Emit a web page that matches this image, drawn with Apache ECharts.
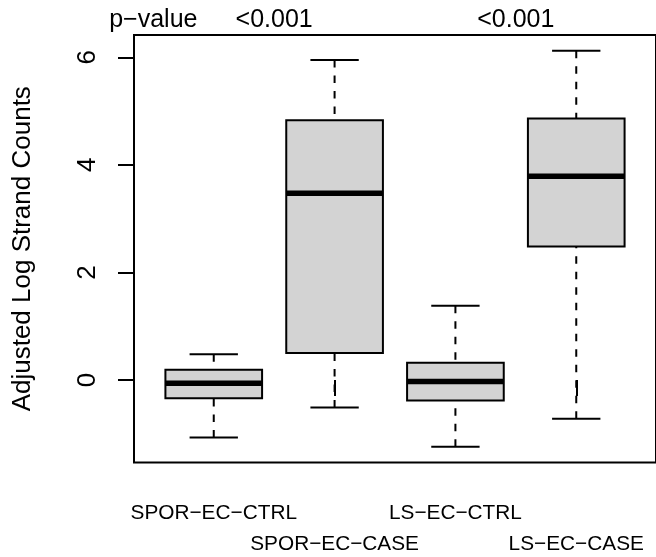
<!DOCTYPE html>
<html>
<head>
<meta charset="utf-8">
<script src="https://cdn.jsdelivr.net/npm/echarts@6/dist/echarts.min.js"></script>
<style>
html,body{margin:0;padding:0;background:#fff;}
#chart{width:656px;height:557px;}
</style>
</head>
<body>
<div id="chart"></div>
<script>
// ---- data ----
var categories = ['SPOR\u2212EC\u2212CTRL', 'SPOR\u2212EC\u2212CASE', 'LS\u2212EC\u2212CTRL', 'LS\u2212EC\u2212CASE'];
var categoryPositions = [1, 2, 3, 4];
var firstRowPositions = [1, 3];
var secondRowPositions = [2, 4];
var lowerWhisker = [-1.07, -0.51, -1.24, -0.72];
var q1 = [-0.34, 0.50, -0.38, 2.48];
var median = [-0.06, 3.47, -0.03, 3.79];
var q3 = [0.19, 4.83, 0.32, 4.86];
var upperWhisker = [0.48, 5.95, 1.38, 6.12];
var yTicks = [0, 2, 4, 6];
var pLabelPositions = [0.5, 1.5, 3.5];
var pLabels = ['p\u2212value', '<0.001', '<0.001'];

var FONT = "'Liberation Sans', Arial, Helvetica, sans-serif";
var XMIN = 0.34, XMAX = 4.66;

var boxData = categoryPositions.map(function (x, i) {
  return [x, lowerWhisker[i], q1[i], median[i], q3[i], upperWhisker[i]];
});

function renderBox(params, api) {
  var x = api.value(0);
  var lw = api.value(1), lq = api.value(2), md = api.value(3), uq = api.value(4), uw = api.value(5);
  var halfBox = 0.4, halfCap = 0.2;
  var pL = api.coord([x - halfBox, uq]);
  var pR = api.coord([x + halfBox, lq]);
  var c = api.coord([x, 0])[0];
  var capL = api.coord([x - halfCap, 0])[0];
  var capR = api.coord([x + halfCap, 0])[0];
  var yUW = api.coord([x, uw])[1];
  var yLW = api.coord([x, lw])[1];
  var yUQ = pL[1], yLQ = pR[1];
  var yMd = api.coord([x, md])[1];
  var dashStyle = { stroke: '#000', lineWidth: 2, lineDash: [7.5, 8], fill: null };
  var solid = { stroke: '#000', lineWidth: 2, fill: null };
  return {
    type: 'group',
    children: [
      { type: 'line', shape: { x1: c, y1: yUW, x2: c, y2: yUQ }, style: dashStyle },
      { type: 'line', shape: { x1: c, y1: yLW, x2: c, y2: yLQ }, style: dashStyle },
      { type: 'line', shape: { x1: capL, y1: yUW, x2: capR, y2: yUW }, style: solid },
      { type: 'line', shape: { x1: capL, y1: yLW, x2: capR, y2: yLW }, style: solid },
      { type: 'rect', shape: { x: pL[0], y: yUQ, width: pR[0] - pL[0], height: yLQ - yUQ },
        style: { fill: '#D3D3D3', stroke: '#000', lineWidth: 2 } },
      { type: 'line', shape: { x1: pL[0], y1: yMd, x2: pR[0], y2: yMd },
        style: { stroke: '#000', lineWidth: 5.5, lineCap: 'butt' } }
    ]
  };
}

function catLabel(v) {
  return categories[Math.round(v) - 1];
}

var labelCommon = {
  color: '#000', fontFamily: FONT, fontSize: 20.8,
  interval: 0, hideOverlap: false, showMinLabel: true, showMaxLabel: true,
  formatter: catLabel
};

var chart = echarts.init(document.getElementById('chart'), null, { renderer: 'canvas' });
chart.setOption({
  animation: false,
  backgroundColor: '#fff',
  grid: {
    left: 134, top: 35, right: -1, bottom: 94.5,
    show: true, borderColor: '#000', borderWidth: 2, backgroundColor: 'transparent'
  },
  xAxis: [{
    type: 'value', position: 'bottom', min: XMIN, max: XMAX,
    axisLine: { show: false },
    splitLine: { show: false },
    axisTick: { show: true, customValues: categoryPositions, length: 16, lineStyle: { color: '#000', width: 2 } },
    axisLabel: Object.assign({ customValues: firstRowPositions, margin: 40 }, labelCommon)
  }, {
    type: 'value', position: 'bottom', offset: 0, min: XMIN, max: XMAX,
    axisLine: { show: false }, splitLine: { show: false }, axisTick: { show: false },
    axisLabel: Object.assign({ customValues: secondRowPositions, margin: 71.5 }, labelCommon)
  }, {
    type: 'value', position: 'top', min: XMIN, max: XMAX,
    axisLine: { show: false }, splitLine: { show: false }, axisTick: { show: false },
    axisLabel: {
      customValues: pLabelPositions, margin: 2, color: '#000',
      fontFamily: FONT, fontSize: 25,
      interval: 0, hideOverlap: false, showMinLabel: true, showMaxLabel: true,
      formatter: function (v) {
        return pLabels[pLabelPositions.indexOf(v)];
      }
    }
  }],
  yAxis: {
    type: 'value', min: -1.534, max: 6.414,
    name: 'Adjusted Log Strand Counts', nameLocation: 'middle', nameGap: 98, nameRotate: 90,
    nameTextStyle: { color: '#000', fontFamily: FONT, fontSize: 26 },
    axisLine: { show: false }, splitLine: { show: false },
    axisTick: { show: true, customValues: yTicks, length: 16, lineStyle: { color: '#000', width: 2 } },
    axisLabel: {
      customValues: yTicks, rotate: 90, margin: 33, color: '#000',
      fontFamily: FONT, fontSize: 26,
      showMinLabel: true, showMaxLabel: true
    }
  },
  series: [{
    type: 'custom',
    xAxisIndex: 0,
    yAxisIndex: 0,
    renderItem: renderBox,
    encode: { x: 0, y: [1, 2, 3, 4, 5] },
    data: boxData,
    clip: false
  }]
});
</script>
</body>
</html>
